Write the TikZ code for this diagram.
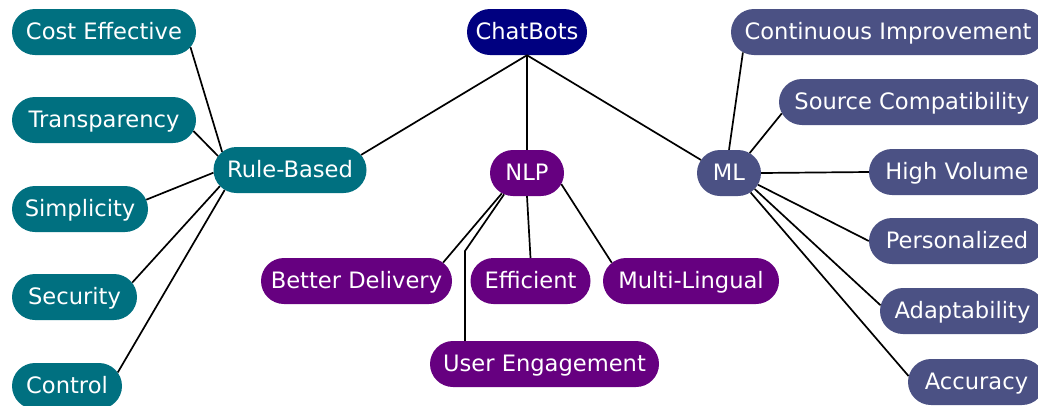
\documentclass[tikz,border=0pt]{standalone}
\usepackage{fontspec}
\setmainfont{DejaVu Sans}
\usepackage{xcolor}
\usepackage{tikz}
\usetikzlibrary{shapes.misc, calc}

\definecolor{botblue}{RGB}{0,0,128}
\definecolor{ruleteal}{RGB}{0,112,128}
\definecolor{nlppurple}{RGB}{102,0,128}
\definecolor{mlslate}{RGB}{75,81,132}

\begin{document}
\begin{tikzpicture}[
      x=1pt, y=-1pt,
      font=\fontsize{22.6}{26}\selectfont,
      pill/.style={rounded rectangle, text height=15.5pt, text depth=1pt, inner xsep=0pt, inner ysep=14.75pt, text=white},
      top/.style={pill, fill=botblue},
      rb/.style={pill, fill=ruleteal},
      nl/.style={pill, fill=nlppurple},
      mlb/.style={pill, fill=mlslate},
      link/.style={line width=1.7pt, black}
    ]
    \useasboundingbox (0,0) rectangle (1038,405);
    %% root and the three branches
    \node[top, minimum width=120pt] (chat) at (527,32) {ChatBots};
    \node[rb,  minimum width=153pt] (rule) at (290,170) {Rule-Based};
    \node[nl,  minimum width=74pt]  (nlp)  at (527,173) {NLP};
    \node[mlb, minimum width=64pt]  (ml)   at (729,173) {ML};
    \draw[link] (chat.south) -- (rule.12);
    \draw[link] (chat.south) -- (nlp.north);
    \draw[link] (chat.south) -- (ml.155);
    %% Rule-Based
    \node[rb, minimum width=184pt] (cost)  at (104,32)   {Cost Effective};
    \node[rb, minimum width=184pt] (trans) at (104,120)  {Transparency};
    \node[rb, minimum width=136pt] (simp)  at (80,209)   {Simplicity};
    \node[rb, minimum width=125pt] (sec)   at (74.5,297) {Security};
    \node[rb, minimum width=110pt] (ctrl)  at (67,386)   {Control};
    \draw[link] (cost.-10) -- (rule.165);
    \draw[link] (trans.-7) -- (rule.169);
    \draw[link] (simp.8)   -- (rule.182);
    \draw[link] (sec.14)   -- (rule.193);
    \draw[link] (ctrl.15)  -- (rule.197);
    %% NLP
    \node[nl, minimum width=191pt] (deliv) at (356.5,281) {Better Delivery};
    \node[nl, minimum width=120pt] (eff)   at (530.5,281) {Efficient};
    \node[nl, minimum width=176pt] (multi) at (691,281)   {Multi-Lingual};
    \node[nl, minimum width=229pt] (user)  at (544.5,364) {User Engagement};
    \coordinate (userbend) at (465,251);
    \draw[link] (nlp.219) -- (deliv.12);
    \draw[link] (nlp.223) -- (userbend) -- (userbend |- user.north);
    \draw[link] (nlp.south) -- (eff.north);
    \draw[link] (nlp.-18) -- (multi.167);
    %% ML
    \node[mlb, minimum width=314pt] (cont)  at (888,32)    {Continuous Improvement};
    \node[mlb, minimum width=266pt] (src)   at (912,102)   {Source Compatibility};
    \node[mlb, minimum width=176pt] (vol)   at (957,172)   {High Volume};
    \node[mlb, minimum width=176pt] (pers)  at (957,241)   {Personalized};
    \node[mlb, minimum width=165pt] (adapt) at (962.5,311) {Adaptability};
    \node[mlb, minimum width=137pt] (acc)   at (976.5,382) {Accuracy};
    \draw[link] (ml.north) -- (cont.188);
    \draw[link] (ml.44)    -- (src.185);
    \draw[link] (ml.east)  -- (vol.west);
    \draw[link] (ml.-22)   -- (pers.west);
    \draw[link] (ml.-32)   -- (adapt.176);
    \draw[link] (ml.-42)   -- (acc.175);
  \end{tikzpicture}
\end{document}
